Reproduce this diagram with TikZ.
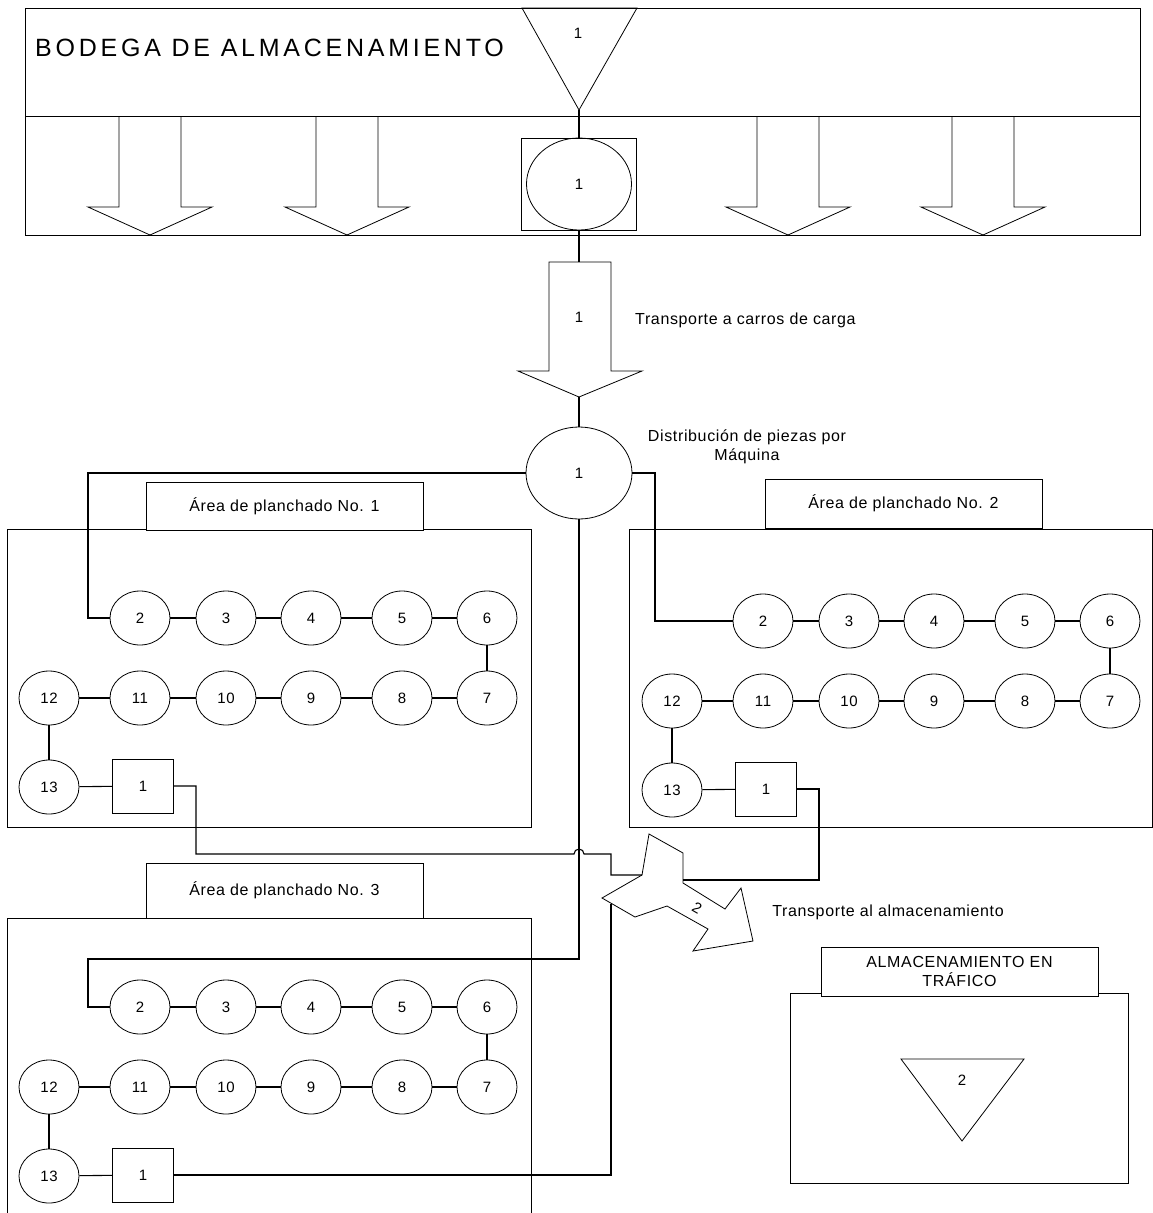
\documentclass[tikz,border=0pt]{standalone}
\usepackage{fontspec}
\setmainfont{Liberation Sans}[LetterSpace=4]
\newfontfamily\bigfont{Liberation Sans}[LetterSpace=15]
\usetikzlibrary{shapes.geometric}
\newcommand\ironarea[3]{%
 \begin{scope}[shift={(#2,#3)}]
  \foreach \n/\x in {2/140,3/226,4/311,5/402,6/487} \node[st] (#1c\n) at (\x,618) {\n};
  \foreach \n/\x in {7/487,8/402,9/311,10/226,11/140,12/49} \node[st] (#1c\n) at (\x,698) {\n};
  \node[st] (#1c13) at (49,787) {13};
  \node[sqn] (#1sq) at (143,786) {1};
  \foreach \a/\b in {2/3,3/4,4/5,5/6,7/8,8/9,9/10,10/11,11/12} \draw[con] (#1c\a) -- (#1c\b);
  \draw[con] (#1c6) -- (#1c7);
  \draw[con] (#1c12) -- (#1c13);
  \draw[con] (#1c13) -- (#1sq);
 \end{scope}}
\begin{document}
\begin{tikzpicture}[x=1pt,y=-1pt,
  shp/.style={draw=black, line width=0.8pt},
  con/.style={draw=black, line width=1.1pt},
  txt/.style={font=\fontsize{16}{19}\selectfont},
  dig/.style={font=\fontsize{15}{18}\selectfont},
  st/.style={shp, ellipse, minimum width=60pt, minimum height=54pt, inner sep=0pt, dig},
  sqn/.style={shp, rectangle, minimum width=61pt, minimum height=54pt, inner sep=0pt, dig},
  lbl/.style={txt, inner sep=0pt},
  dlbl/.style={dig, inner sep=0pt},
  ttl/.style={shp, fill=white, rectangle, inner sep=0pt, txt, align=center}
]
\useasboundingbox (0,0) rectangle (1153,1213);

% top warehouse
\node[shp, rectangle, minimum width=1115pt, minimum height=227pt, inner sep=0pt] (bod) at (582.5,121.5) {};
\draw[shp] (25,116) -- (1140,116);
\node[anchor=west, inner sep=0pt, font=\bigfont\fontsize{25}{30}\selectfont] (bodt) at (35,47.5) {BODEGA DE ALMACENAMIENTO};
\draw[shp] (522,8) -- (637,8) -- (579,110) coordinate (apex) -- cycle;
\node[dlbl] (t1lab) at (578,33) {1};
\foreach \c in {150,347,788,983}
  \draw[shp] (\c-31,116) -- (\c-31,207) -- (\c-62,207) -- (\c,235) -- (\c+62,207) -- (\c+31,207) -- (\c+31,116);
\node[shp, rectangle, minimum width=115pt, minimum height=92pt, inner sep=0pt] (sq0) at (579,184) {};
\node[shp, ellipse, minimum width=105pt, minimum height=92pt, inner sep=0pt, dig] (e0) at (579,184) {1};
\draw[con] (apex) -- (e0.north);

% big transport arrow
\draw[shp] (549,262) -- (579,262) coordinate (ta) -- (611,262) -- (611,371) -- (642,371) -- (579,397) coordinate (tip) -- (518,371) -- (549,371) -- cycle;
\node[dlbl] (tr1) at (579,317) {1};
\draw[con] (e0.south) -- (ta);
\node[lbl, anchor=west] (t1) at (635,320) {Transporte a carros de carga};

% distribution
\node[shp, ellipse, minimum width=106pt, minimum height=92pt, inner sep=0pt, dig] (dist) at (579,473) {1};
\draw[con] (tip) -- (dist.north);
\node[lbl, align=center] (t2) at (747,447) {Distribución de piezas por\\Máquina};

% areas
\node[shp, rectangle, minimum width=523.5pt, minimum height=298pt, inner sep=0pt] (a1) at (269.25,678) {};
\node[ttl, minimum width=277pt, minimum height=48pt] (a1t) at (284.5,506) {Área de planchado No. 1};
\node[shp, rectangle, minimum width=523pt, minimum height=298pt, inner sep=0pt] (a2) at (890.5,678) {};
\node[ttl, minimum width=277pt, minimum height=49pt] (a2t) at (903.5,503.5) {Área de planchado No. 2};
\draw[shp] (7,1230) -- (7,918) -- (531,918) -- (531,1230);
\node[ttl, minimum width=277pt, minimum height=55pt] (a3t) at (284.5,890.5) {Área de planchado No. 3};

\ironarea{a1}{0}{0}
\ironarea{a2}{623}{3}
\ironarea{a3}{0}{389}

% transport to storage (zigzag arrow)
\draw[shp] (649,834) -- (683,853) coordinate (z2) -- (683,883) -- (725,909) -- (741,888) -- (753,941) -- (693,951) -- (708,929) -- (667,906) -- (635,917) -- (602,898) -- (642,875) coordinate (z12) -- cycle;
\node[dlbl, rotate=-30] (z2lab) at (697,908) {2};
\node[lbl] (t3) at (888,912) {Transporte al almacenamiento};

% connectors
\draw[con] (dist.west) -| (88,618) -- (a1c2.west);
\draw[con] (dist.east) -| (655,621) -- (a2c2.west);
\draw[con] (dist.south) |- (88,959) -- (88,1007) -- (a3c2.west);
\draw[con] (a1sq.east) -| (196,854) -- (574,854) arc[start angle=180, end angle=0, radius=5pt] -- (611,854) -- (611,875) -- (z12);
\draw[con] (a2sq.east) -| (819,880) -- (683,880);
\draw[con] (a3sq.east) -| (611,904);

% storage in traffic
\node[shp, rectangle, minimum width=338pt, minimum height=190pt, inner sep=0pt] (alm) at (959,1088) {};
\node[ttl, minimum width=277pt, minimum height=49pt, font=\fontsize{16}{19}\selectfont] (almt) at (959.5,971.5) {ALMACENAMIENTO EN\\TRÁFICO};
\draw[shp] (901,1059) -- (1024,1059) -- (962,1141) -- cycle;
\node[dlbl] (alml) at (962,1080) {2};
\end{tikzpicture}
\end{document}
